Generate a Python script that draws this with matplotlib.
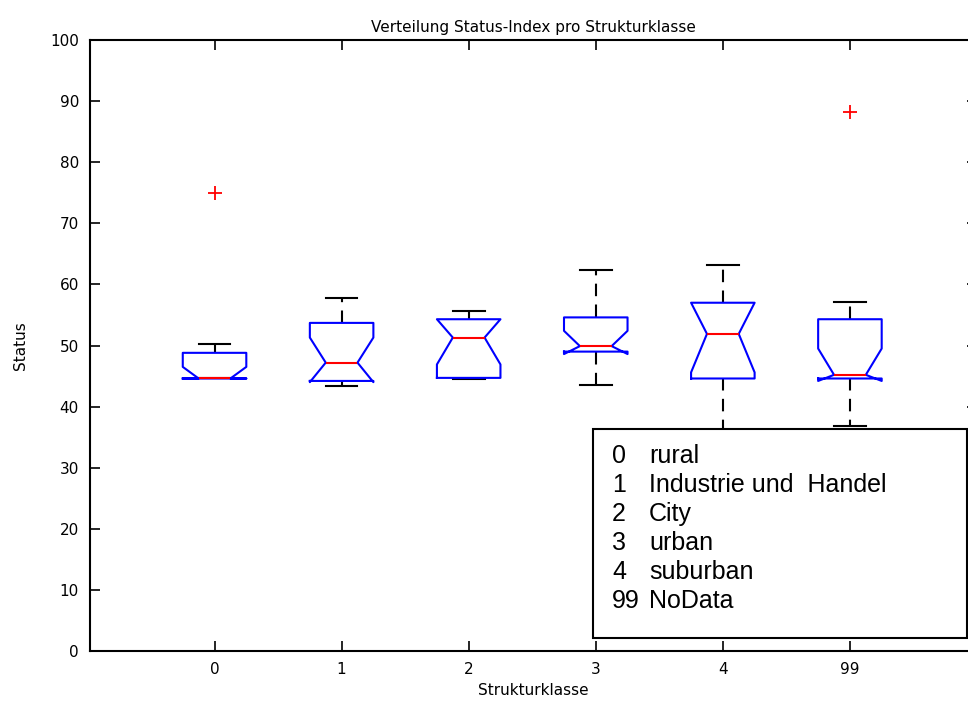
import matplotlib.pyplot as plt
from matplotlib.patches import Rectangle

# Strukturklassen and box statistics of the Status index
klassen = ['0', '1', '2', '3', '4', '99']
q1 = [44.6, 44.2, 44.7, 49.0, 44.6, 44.6]
median = [44.6, 47.2, 51.3, 49.9, 51.9, 45.2]
q3 = [48.8, 53.7, 54.3, 54.6, 57.0, 54.3]
whisker_lo = [44.6, 43.4, 44.5, 43.6, 30.0, 36.9]
whisker_hi = [50.2, 57.8, 55.7, 62.4, 63.1, 57.2]
notch_lo = [44.6, 44.0, 46.9, 48.6, 45.6, 44.2]
notch_hi = [46.5, 51.3, 54.3, 52.4, 57.0, 49.5]
ausreisser = [[75.0], [], [], [], [], [88.2]]

legende_nr = ['0', '1', '2', '3', '4', '99']
legende_txt = ['rural', 'Industrie und  Handel', 'City', 'urban', 'suburban', 'NoData']

stats = []
for i in range(len(klassen)):
    stats.append(dict(q1=q1[i], med=median[i], q3=q3[i],
                      whislo=whisker_lo[i], whishi=whisker_hi[i],
                      cilo=notch_lo[i], cihi=notch_hi[i],
                      fliers=ausreisser[i], label=klassen[i]))

fig = plt.figure(figsize=(9.68, 7.06), dpi=100)
ax = fig.add_axes([90 / 968, 55 / 706, 887 / 968, 611 / 706])

pos = list(range(1, len(klassen) + 1))
ax.bxp(stats, positions=pos, widths=0.5, shownotches=True,
       boxprops=dict(color='#0000ff', linewidth=1.5, zorder=3),
       medianprops=dict(color='#ff0000', linewidth=1.5, zorder=4),
       whiskerprops=dict(color='black', linewidth=1.5, linestyle=(0, (6, 4))),
       capprops=dict(color='black', linewidth=1.5),
       flierprops=dict(marker='+', markeredgecolor='#ff0000', markersize=10,
                       markeredgewidth=1.3, linestyle='none'))

ax.set_xlim(0.02, 7.0)
ax.set_ylim(0, 100)
ax.set_yticks(range(0, 101, 10))
ax.set_xticks(pos)
ax.set_xticklabels(klassen)
ax.tick_params(direction='in', top=True, right=True, length=7, width=1.2,
               labelsize=11, pad=8)
for s in ax.spines.values():
    s.set_linewidth(1.5)

ax.set_title('Verteilung Status-Index pro Strukturklasse', fontsize=11, pad=6)
ax.set_xlabel('Strukturklasse', fontsize=11, labelpad=4)
ax.set_ylabel('Status', fontsize=11, labelpad=16)

# key of the class numbers, drawn on top of the lower right corner
rect = Rectangle((593 / 968, 1 - 638 / 706), 374 / 968, 209 / 706,
                 transform=fig.transFigure, facecolor='white',
                 edgecolor='black', linewidth=1.5, zorder=10)
fig.patches.append(rect)
for i in range(len(legende_nr)):
    y = 1 - (463 + i * 29) / 706
    fig.text(612 / 968, y, legende_nr[i], fontsize=18,
             family='Liberation Sans', va='baseline', zorder=11)
    fig.text(649 / 968, y, legende_txt[i], fontsize=18,
             family='Liberation Sans', va='baseline', zorder=11)

plt.savefig('out.png', dpi=100)
